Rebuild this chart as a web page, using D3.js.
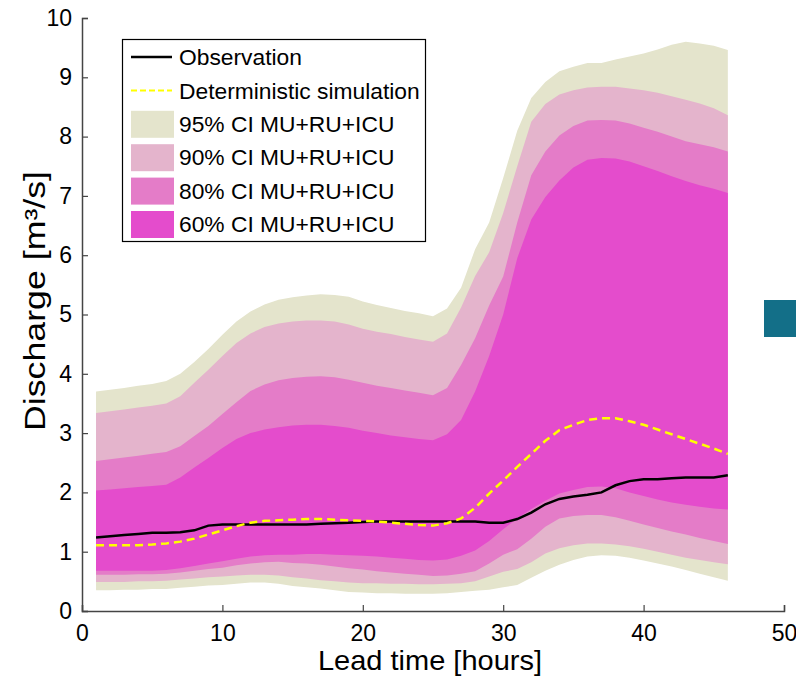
<!DOCTYPE html>
<html>
<head>
<meta charset="utf-8">
<script src="https://cdn.jsdelivr.net/npm/d3@7"></script>
<style>
  body { margin: 0; background: #fff; }
  text { font-family: "Liberation Sans", Arial, sans-serif; fill: #000; }
</style>
</head>
<body>
<svg id="chart" width="796" height="677"></svg>
<script>
// lead time in hours
const hours = d3.range(1, 47)

const upper95 = [3.70, 3.73, 3.76, 3.80, 3.83, 3.88, 4.00, 4.20, 4.42, 4.66, 4.88, 5.05, 5.17, 5.25, 5.29, 5.32, 5.34, 5.33, 5.30, 5.22, 5.16, 5.11, 5.06, 5.02, 4.97, 5.10, 5.45, 6.10, 6.55, 7.30, 8.10, 8.65, 8.92, 9.10, 9.18, 9.24, 9.24, 9.30, 9.35, 9.40, 9.47, 9.55, 9.60, 9.57, 9.53, 9.46]
const lower95 = [0.35, 0.35, 0.36, 0.36, 0.37, 0.37, 0.39, 0.41, 0.43, 0.44, 0.46, 0.48, 0.48, 0.46, 0.42, 0.40, 0.38, 0.35, 0.32, 0.31, 0.30, 0.30, 0.29, 0.29, 0.29, 0.30, 0.32, 0.34, 0.36, 0.40, 0.44, 0.56, 0.68, 0.78, 0.86, 0.92, 0.94, 0.93, 0.90, 0.85, 0.80, 0.75, 0.69, 0.63, 0.57, 0.51]
const upper90 = [3.34, 3.37, 3.40, 3.43, 3.46, 3.50, 3.62, 3.85, 4.07, 4.30, 4.52, 4.68, 4.79, 4.85, 4.88, 4.90, 4.90, 4.88, 4.83, 4.76, 4.71, 4.67, 4.62, 4.58, 4.54, 4.68, 5.12, 5.65, 6.05, 6.71, 7.50, 8.25, 8.55, 8.71, 8.78, 8.83, 8.84, 8.84, 8.81, 8.78, 8.74, 8.68, 8.62, 8.56, 8.48, 8.36]
const lower90 = [0.49, 0.49, 0.49, 0.50, 0.50, 0.51, 0.53, 0.55, 0.57, 0.58, 0.60, 0.61, 0.61, 0.60, 0.57, 0.55, 0.52, 0.50, 0.48, 0.47, 0.47, 0.46, 0.46, 0.45, 0.45, 0.46, 0.47, 0.50, 0.58, 0.66, 0.71, 0.82, 0.97, 1.06, 1.11, 1.14, 1.14, 1.12, 1.09, 1.05, 1.00, 0.95, 0.90, 0.86, 0.82, 0.79]
const upper80 = [2.53, 2.56, 2.59, 2.62, 2.65, 2.68, 2.78, 2.95, 3.12, 3.32, 3.52, 3.71, 3.82, 3.89, 3.93, 3.95, 3.96, 3.94, 3.90, 3.85, 3.80, 3.76, 3.72, 3.68, 3.64, 3.76, 4.15, 4.60, 5.15, 5.64, 6.55, 7.35, 7.75, 8.02, 8.18, 8.27, 8.28, 8.27, 8.22, 8.15, 8.08, 8.00, 7.92, 7.87, 7.82, 7.75]
const lower80 = [0.61, 0.61, 0.61, 0.62, 0.62, 0.63, 0.65, 0.68, 0.71, 0.73, 0.77, 0.80, 0.82, 0.83, 0.81, 0.80, 0.78, 0.75, 0.72, 0.70, 0.67, 0.65, 0.63, 0.61, 0.59, 0.60, 0.63, 0.67, 0.80, 0.95, 1.04, 1.22, 1.42, 1.56, 1.60, 1.62, 1.62, 1.58, 1.52, 1.46, 1.40, 1.34, 1.29, 1.23, 1.18, 1.13]
const upper60 = [2.03, 2.05, 2.07, 2.09, 2.11, 2.13, 2.25, 2.42, 2.58, 2.75, 2.90, 3.00, 3.06, 3.10, 3.13, 3.14, 3.14, 3.12, 3.09, 3.04, 3.00, 2.96, 2.93, 2.90, 2.88, 2.98, 3.22, 3.70, 4.30, 5.00, 5.95, 6.60, 6.98, 7.26, 7.48, 7.61, 7.64, 7.63, 7.58, 7.50, 7.42, 7.33, 7.25, 7.18, 7.12, 7.05]
const lower60 = [0.68, 0.68, 0.68, 0.68, 0.68, 0.69, 0.72, 0.76, 0.80, 0.84, 0.88, 0.92, 0.94, 0.95, 0.95, 0.96, 0.96, 0.95, 0.94, 0.93, 0.92, 0.90, 0.88, 0.86, 0.85, 0.87, 0.93, 1.02, 1.18, 1.38, 1.56, 1.72, 1.86, 1.98, 2.04, 2.09, 2.10, 2.07, 2.00, 1.94, 1.88, 1.83, 1.79, 1.76, 1.73, 1.71]

const observation = [1.24, 1.26, 1.28, 1.30, 1.32, 1.32, 1.33, 1.36, 1.44, 1.46, 1.46, 1.46, 1.46, 1.46, 1.46, 1.46, 1.47, 1.48, 1.49, 1.50, 1.51, 1.51, 1.51, 1.51, 1.51, 1.51, 1.51, 1.51, 1.49, 1.49, 1.55, 1.66, 1.80, 1.89, 1.93, 1.96, 2.00, 2.12, 2.19, 2.22, 2.22, 2.24, 2.25, 2.25, 2.25, 2.29]
const deterministic = [1.11, 1.11, 1.11, 1.11, 1.12, 1.14, 1.17, 1.22, 1.29, 1.36, 1.43, 1.49, 1.52, 1.53, 1.54, 1.55, 1.55, 1.54, 1.53, 1.52, 1.51, 1.49, 1.47, 1.45, 1.44, 1.48, 1.56, 1.74, 1.98, 2.20, 2.43, 2.65, 2.87, 3.05, 3.14, 3.22, 3.25, 3.25, 3.20, 3.14, 3.06, 2.98, 2.90, 2.82, 2.74, 2.65]

const bands = [
  { label: '95% CI MU+RU+ICU', lo: lower95, hi: upper95, color: '#e4e4cc' },
  { label: '90% CI MU+RU+ICU', lo: lower90, hi: upper90, color: '#e4b4cc' },
  { label: '80% CI MU+RU+ICU', lo: lower80, hi: upper80, color: '#e47cc8' },
  { label: '60% CI MU+RU+ICU', lo: lower60, hi: upper60, color: '#e44ccc' }
]

const xTicks = [0, 10, 20, 30, 40, 50]
const yTicks = d3.range(0, 11)

const svg = d3.select('#chart')
const x = d3.scaleLinear().domain([0, 50]).range([82, 784])
const y = d3.scaleLinear().domain([0, 10]).range([611, 18])

// confidence bands
bands.forEach(b => {
  const area = d3.area()
    .x((d, i) => x(hours[i]))
    .y0((d, i) => y(b.lo[i]))
    .y1((d, i) => y(b.hi[i]))
  svg.append('path').datum(hours).attr('d', area).attr('fill', b.color)
})

const line = vals => d3.line()
  .x((d, i) => x(hours[i]))
  .y((d, i) => y(vals[i]))(hours)

svg.append('path').attr('d', line(observation))
  .attr('fill', 'none').attr('stroke', '#000').attr('stroke-width', 2.5)

svg.append('path').attr('d', line(deterministic))
  .attr('fill', 'none').attr('stroke', '#ffff00').attr('stroke-width', 2.5)
  .attr('stroke-dasharray', '8,5')

// axes, ticks pointing inward
const xAxis = svg.append('g').attr('transform', `translate(0,${y(0)})`)
  .call(d3.axisBottom(x).tickValues(xTicks).tickSize(-6).tickPadding(14))
const yAxis = svg.append('g').attr('transform', `translate(${x(0)},0)`)
  .call(d3.axisLeft(y).tickValues(yTicks).tickSize(-6).tickPadding(10))

;[xAxis, yAxis].forEach(a => {
  a.select('.domain').attr('stroke', '#444').attr('stroke-width', 1.5)
  a.selectAll('.tick line').attr('stroke', '#444').attr('stroke-width', 1.2)
  a.selectAll('.tick text').attr('font-size', 23).attr('font-family', '"Liberation Sans", Arial, sans-serif').attr('fill', '#000')
})
xAxis.selectAll('.tick text').attr('dy', '0.71em').attr('y', 14)

svg.append('text').attr('x', 430).attr('y', 670)
  .attr('text-anchor', 'middle').attr('font-size', 28)
  .attr('textLength', 224).attr('lengthAdjust', 'spacingAndGlyphs').text('Lead time [hours]')
svg.append('text').attr('transform', `translate(45,301) rotate(-90)`)
  .attr('text-anchor', 'middle').attr('font-size', 29)
  .attr('textLength', 260).attr('lengthAdjust', 'spacingAndGlyphs').text('Discharge [m³/s]')

// legend
const lg = svg.append('g')
lg.append('rect').attr('x', 122.5).attr('y', 39.5).attr('width', 303).attr('height', 202)
  .attr('fill', '#fff').attr('stroke', '#000').attr('stroke-width', 1.2)

const rowY = i => 57 + i * 33.4
lg.append('line').attr('x1', 131).attr('x2', 172).attr('y1', rowY(0)).attr('y2', rowY(0))
  .attr('stroke', '#000').attr('stroke-width', 2.5)
lg.append('line').attr('x1', 131).attr('x2', 172).attr('y1', rowY(1)).attr('y2', rowY(1))
  .attr('stroke', '#ffff00').attr('stroke-width', 2).attr('stroke-dasharray', '6,3')
bands.forEach((b, i) => {
  lg.append('rect').attr('x', 131).attr('y', rowY(i + 2) - 13).attr('width', 43).attr('height', 27)
    .attr('fill', b.color)
})
const labels = ['Observation', 'Deterministic simulation'].concat(bands.map(b => b.label))
labels.forEach((t, i) => {
  lg.append('text').attr('x', 179).attr('y', rowY(i)).attr('dy', '0.36em')
    .attr('font-size', 22.8).text(t)
})

// cropped marker at the right edge
svg.append('rect').attr('x', 764).attr('y', 300).attr('width', 40).attr('height', 37).attr('fill', '#136f88')
</script>
</body>
</html>
